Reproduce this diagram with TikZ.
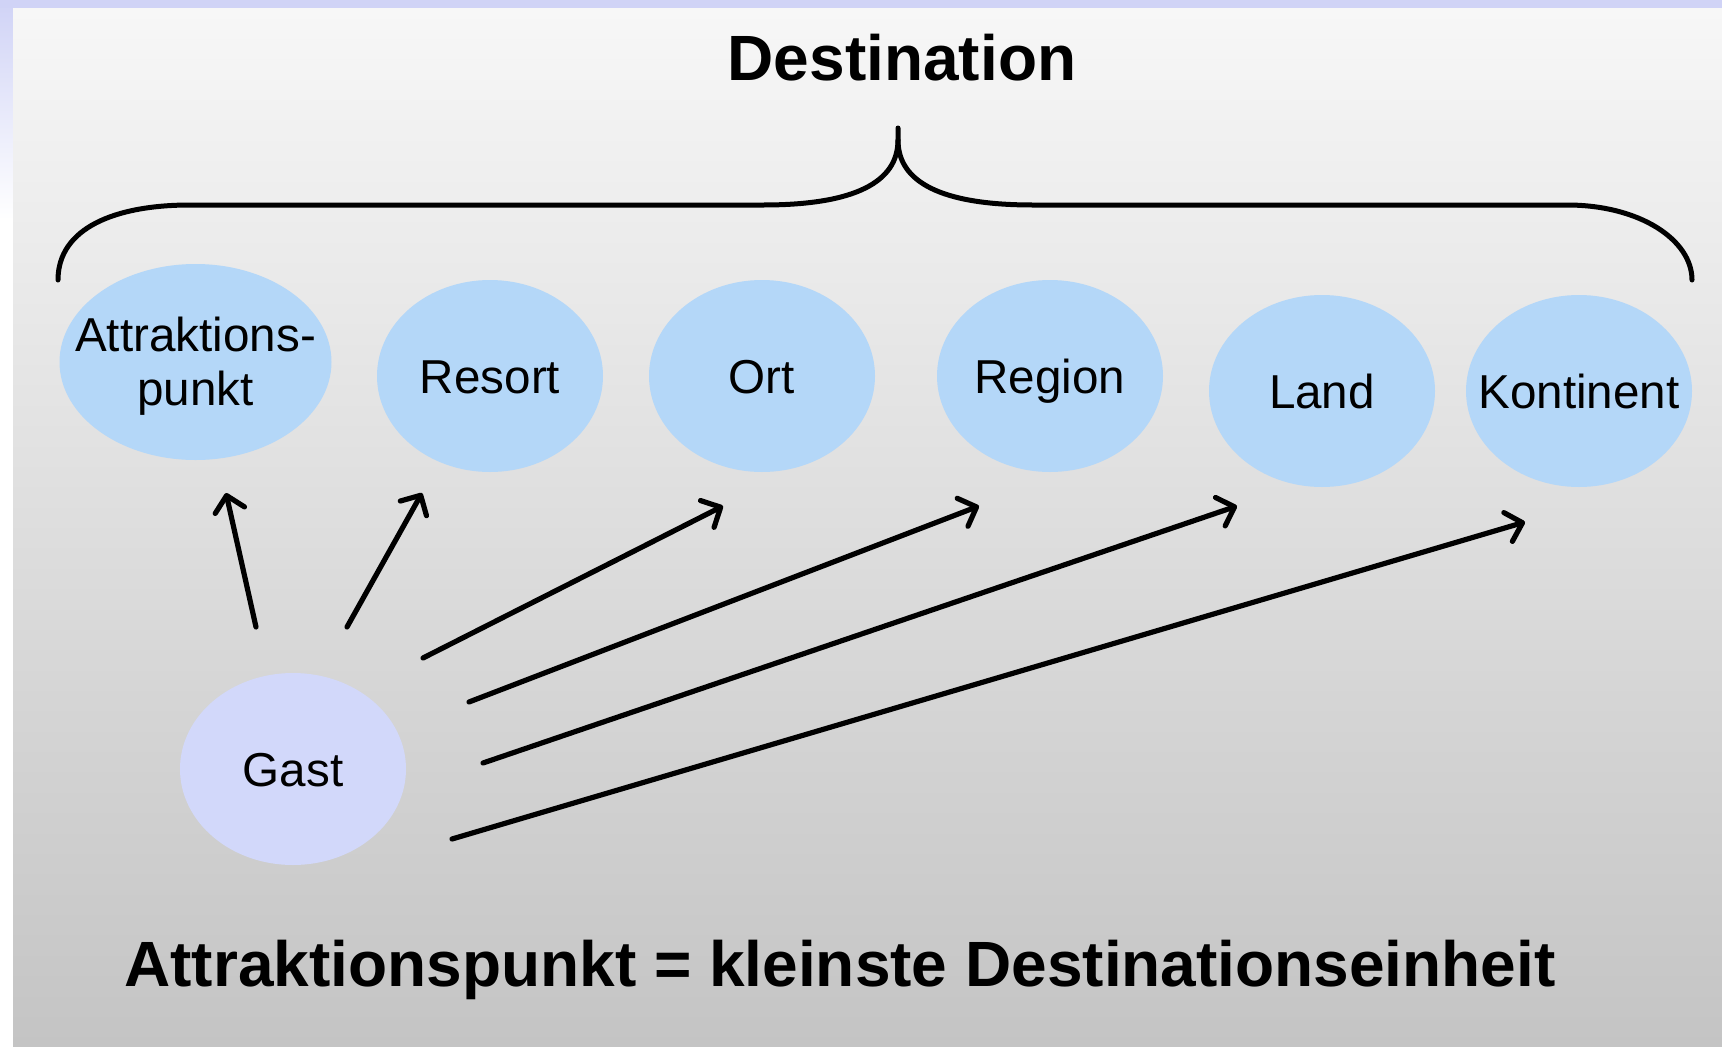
\documentclass[tikz,border=0pt]{standalone}
\usepackage{fontspec}
\setmainfont{Liberation Sans}
\usetikzlibrary{shapes.geometric,arrows.meta}
\definecolor{framelav}{HTML}{D0D3F6}
\definecolor{paneltop}{HTML}{F7F7F7}
\definecolor{panelbot}{HTML}{C4C4C4}
\definecolor{blobblue}{HTML}{B4D7F8}
\definecolor{guestlav}{HTML}{D2D8FA}
\tikzset{
  blob/.style={ellipse, fill=blobblue, draw=none, inner sep=0pt,
    minimum width=226pt, minimum height=192pt},
  guest/.style={blob, fill=guestlav},
  lbl/.style={font=\fontsize{47.6pt}{54pt}\selectfont, text height=34pt, text depth=0pt, inner sep=0pt},
  lbltwo/.style={font=\fontsize{47.6pt}{54pt}\selectfont, align=center, inner sep=0pt},
  heading/.style={font=\fontsize{64pt}{70pt}\selectfont\bfseries, inner sep=0pt, anchor=base},
  brace/.style={line width=5pt, line cap=round, line join=round},
  pointer/.style={line width=5.2pt, line cap=round,
    -{Straight Barb[length=15pt,width=30pt,line cap=round,line join=round]}}
}
\begin{document}
\begin{tikzpicture}[x=1pt,y=-1pt]
\useasboundingbox (0,0) rectangle (1722,1047);
% frame and background panel
\fill[white] (0,0) rectangle (13,1047);
\shade[top color=framelav, bottom color=white] (0,0) rectangle (13,220);
\fill[framelav] (0,0) rectangle (1722,8);
\shade[top color=paneltop, bottom color=panelbot] (13,8) rectangle (1722,1047);

% title and brace
\node[heading] (title) at (902,80) {Destination};
\draw[brace] (58,280) .. controls (58,228) and (115,205) .. (190,205)
  -- (763,205) .. controls (855,205) and (898,182) .. (898,140) -- (898,128);
\draw[brace] (898,140) .. controls (898,182) and (941,205) .. (1033,205)
  -- (1567,205) .. controls (1640,205) and (1692,240) .. (1692,280);

% destination levels
\node[blob, minimum width=272pt, minimum height=196pt] (attr) at (195.5,362) {};
\node[blob] (resort) at (490,376) {};
\node[blob] (ort) at (762,376) {};
\node[blob] (region) at (1050,376) {};
\node[blob] (land) at (1322,391) {};
\node[blob] (kont) at (1579,391) {};
\node[guest] (gast) at (293,769) {};

\node[lbltwo, yshift=-4pt] (attrtxt) at (attr.center) {Attraktions-\\punkt};
\node[lbl] (resorttxt) at (resort.center) {Resort};
\node[lbl] (orttxt) at (ort.center) {Ort};
\node[lbl] (regiontxt) at (region.center) {Region};
\node[lbl] (landtxt) at (land.center) {Land};
\node[lbl] (konttxt) at (kont.center) {Kontinent};
\node[lbl] (gasttxt) at (gast.center) {Gast};

% arrows from the guest towards each level
\coordinate (s1) at (256,627); \coordinate (e1) at (226,493);
\coordinate (s2) at (347,627); \coordinate (e2) at (422,493);
\coordinate (s3) at (423,658); \coordinate (e3) at (723,506);
\coordinate (s4) at (469,702); \coordinate (e4) at (979,506);
\coordinate (s5) at (483,763); \coordinate (e5) at (1237,506);
\coordinate (s6) at (452,839); \coordinate (e6) at (1525,522);
\foreach \i in {1,...,6} \draw[pointer] (s\i) -- (e\i);

% footer statement
\node[heading] (footer) at (840,986) {Attraktionspunkt = kleinste Destinationseinheit};
\end{tikzpicture}
\end{document}
